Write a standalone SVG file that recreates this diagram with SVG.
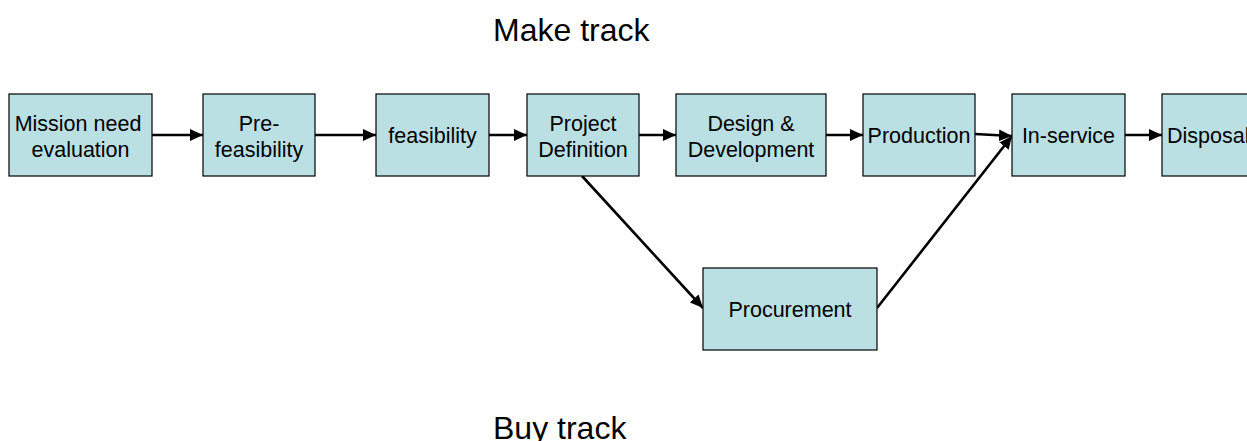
<svg xmlns="http://www.w3.org/2000/svg" width="1247" height="441" viewBox="0 0 1247 441">
<defs>
<style>
.box{fill:#bbe0e3;stroke:#000;stroke-width:1.2}
.t{font-family:"Liberation Sans",Arial,sans-serif;font-size:21.5px;fill:#000;text-anchor:middle}
.title{font-family:"Liberation Sans",Arial,sans-serif;font-size:32px;fill:#000}
.c{stroke:#000;stroke-width:2.6;fill:none;marker-end:url(#ah)}
</style>
<marker id="ah" viewBox="0 0 11 10" refX="11" refY="5" markerWidth="5" markerHeight="4.6" orient="auto" markerUnits="strokeWidth">
<path d="M0,0 L11,5 L0,10 z" fill="#000"/>
</marker>
</defs>
<rect width="1247" height="441" fill="#fff"/>
<text class="title" x="493" y="41">Make track</text>
<text class="title" x="493" y="439">Buy track</text>
<g id="connectors">
<line class="c" x1="152" y1="135" x2="203" y2="135"/>
<line class="c" x1="315" y1="135" x2="376" y2="135"/>
<line class="c" x1="489" y1="135" x2="527" y2="135"/>
<line class="c" x1="639" y1="135" x2="676" y2="135"/>
<line class="c" x1="826" y1="135" x2="863" y2="135"/>
<line class="c" x1="975" y1="134" x2="1012" y2="136"/>
<line class="c" x1="1125" y1="135" x2="1162" y2="135"/>
<line class="c" x1="582" y1="176" x2="703" y2="308"/>
<line class="c" x1="877" y1="308" x2="1012" y2="136"/>
</g>
<g id="n1"><rect class="box" x="9" y="94" width="143" height="82"/><text class="t" x="78" y="131">Mission need</text><text class="t" x="80.5" y="157">evaluation</text></g>
<g id="n2"><rect class="box" x="203" y="94" width="112" height="82"/><text class="t" x="259" y="131">Pre-</text><text class="t" x="259" y="157">feasibility</text></g>
<g id="n3"><rect class="box" x="376" y="94" width="113" height="82"/><text class="t" x="432.5" y="143">feasibility</text></g>
<g id="n4"><rect class="box" x="527" y="94" width="112" height="82"/><text class="t" x="583" y="131">Project</text><text class="t" x="583" y="157">Definition</text></g>
<g id="n5"><rect class="box" x="676" y="94" width="150" height="82"/><text class="t" x="751" y="131">Design &amp;</text><text class="t" x="751" y="157">Development</text></g>
<g id="n6"><rect class="box" x="863" y="94" width="112" height="82"/><text class="t" x="919" y="143">Production</text></g>
<g id="n7"><rect class="box" x="1012" y="94" width="113" height="82"/><text class="t" x="1068.5" y="143">In-service</text></g>
<g id="n8"><rect class="box" x="1162" y="94" width="113" height="82"/><text class="t" x="1167" y="143" style="text-anchor:start">Disposal</text></g>
<g id="n9"><rect class="box" x="703" y="268" width="174" height="82"/><text class="t" x="790" y="317">Procurement</text></g>
</svg>
